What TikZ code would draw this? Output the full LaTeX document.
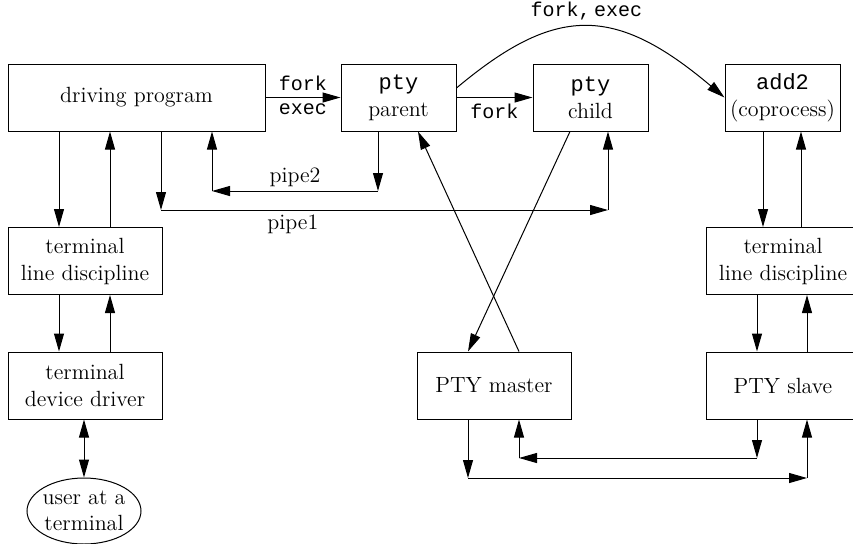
\documentclass[tikz,border=0pt]{standalone}
\usepackage{fontspec}
\setmonofont{Liberation Mono}
\usetikzlibrary{arrows.meta,positioning,calc,shapes.geometric}
\tikzset{
  >={Triangle[length=9pt,width=5pt]},
  box/.style={draw,line width=0.5pt,inner sep=2pt,minimum height=33.5pt,align=center,font=\fontsize{11}{13.5}\selectfont},
  wbox/.style={box,minimum width=128.5pt},
  pbox/.style={box,minimum width=57.5pt},
  tbox/.style={box,minimum width=77pt},
  ubox/.style={draw,ellipse,line width=0.5pt,inner sep=-1pt,minimum width=57pt,minimum height=33pt,align=center,font=\fontsize{11}{13}\selectfont},
  lab/.style={font=\fontsize{10}{12}\ttfamily,inner sep=3pt},
  slab/.style={font=\fontsize{11}{12}\selectfont,inner sep=2pt},
  arr/.style={->,line width=0.5pt},
}

\begin{document}
\begin{tikzpicture}[x=0.5pt,y=-0.5pt]
\useasboundingbox (0,0) rectangle (853,543);
% processes
\node[wbox] (drv) at (136.5,97.5) {driving program};
\node[pbox] (parent) at (398.5,97.5) {\texttt{pty}\\parent};
\node[pbox] (child) at (590.5,97.5) {\texttt{pty}\\child};
\node[pbox] (add2) at (782.5,97.5) {\texttt{add2}\\(coprocess)};
% left terminal
\node[tbox] (ldL) at (85,261) {terminal\\line discipline};
\node[tbox] (ddL) at (85,385.5) {terminal\\device driver};
\node[ubox] (user) at (84,511) {user at a\\terminal};
% pseudo terminal
\node[tbox] (ldR) at (783,261) {terminal\\line discipline};
\node[tbox] (master) at (494,385.5) {PTY master};
\node[tbox] (slave) at (783,385.5) {PTY slave};

\draw[arr] (drv) -- (parent) node[lab,midway,above] {fork} node[lab,midway,below] {exec};
\draw[arr] (parent) -- (child) node[lab,midway,below] {fork};
\draw[arr] ([yshift=4.75pt]parent.east) .. controls +(99,-83) and +(-110,-93) .. (add2.west)
  node[lab,midway,above] {fork,\,exec};

\draw[arr] ([xshift=-13pt]ldL.north |- drv.south) -- ([xshift=-13pt]ldL.north);
\draw[arr] ([xshift=12.5pt]ldL.north) -- ([xshift=12.5pt]ldL.north |- drv.south);
\draw[arr] ([xshift=-13pt]ldL.south) -- ([xshift=-13pt]ddL.north);
\draw[arr] ([xshift=12.5pt]ddL.north) -- ([xshift=12.5pt]ldL.south);
\draw[<->,line width=0.5pt] (ddL.south -| user.north) -- (user.north);

% pipe2
\coordinate (p2a) at (378,191);
\coordinate (p2b) at (212,191);
\draw[arr] (parent.south -| p2a) -- (p2a);
\draw[arr] (p2a) -- (p2b) node[slab,midway,above] {pipe2};
\draw[arr] (p2b) -- (drv.south -| p2b);
% pipe1
\coordinate (p1a) at (161,210);
\coordinate (p1b) at (608,210);
\draw[arr] (drv.south -| p1a) -- (p1a);
\draw[arr] (p1a) -- (p1b) node[slab,pos=0.295,below] {pipe1};
\draw[arr] (p1b) -- (child.south -| p1b);

\draw[arr] ([xshift=-10.25pt]child.south) -- ([xshift=-13pt]master.north);
\draw[arr] ([xshift=12.5pt]master.north) -- ([xshift=9.75pt]parent.south);

\draw[arr] ([xshift=-9.75pt]add2.south) -- ([xshift=-9.75pt]add2.south |- ldR.north);
\draw[arr] ([xshift=9.25pt]add2.south |- ldR.north) -- ([xshift=9.25pt]add2.south);
\draw[arr] ([xshift=-13pt]ldR.south) -- ([xshift=-13pt]slave.north);
\draw[arr] ([xshift=12pt]slave.north) -- ([xshift=12pt]ldR.south);

% master <-> slave
\coordinate (m1) at (468,478);
\coordinate (m2) at (807,478);
\coordinate (s1) at (757,458);
\coordinate (s2) at (519,458);
\draw[arr] (master.south -| m1) -- (m1);
\draw[arr] (m1) -- (m2);
\draw[arr] (m2) -- (slave.south -| m2);
\draw[arr] (slave.south -| s1) -- (s1);
\draw[arr] (s1) -- (s2);
\draw[arr] (s2) -- (master.south -| s2);
\end{tikzpicture}
\end{document}
